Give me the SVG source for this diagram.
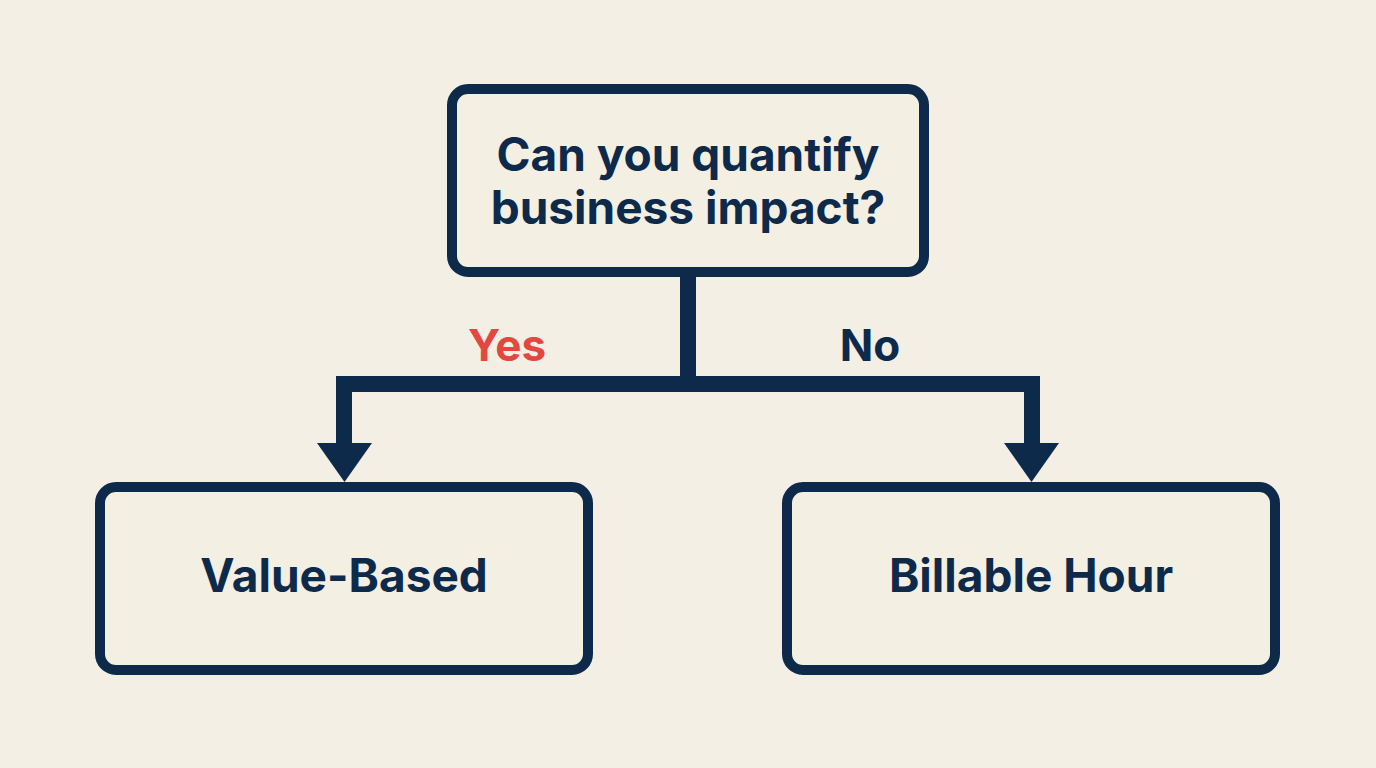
<svg xmlns="http://www.w3.org/2000/svg" width="1376" height="768" viewBox="0 0 1376 768">
  <style>
    .box { fill: #F3EFE3; stroke: #0E2A4B; stroke-width: 10; }
    .t { font-family: Inter, "Liberation Sans", sans-serif; font-weight: 700; fill: #0E2A4B; text-anchor: middle; }
    .wire { fill: none; stroke: #0E2A4B; stroke-width: 16; stroke-linejoin: miter; }
    .head { fill: #0E2A4B; }
  </style>
  <rect x="0" y="0" width="1376" height="768" fill="#F3EFE4"/>
  <g id="connectors">
    <path class="wire" d="M688,272 V384 M344,384 H1032 M344,376 V446 M1032,376 V446"/>
    <polygon class="head" points="317,443 372,443 344.5,482"/>
    <polygon class="head" points="1004,443 1059,443 1031.5,482"/>
    <text class="t" x="507" y="361" font-size="44" style="fill:#E2483F">Yes</text>
    <text class="t" x="870" y="361" font-size="44">No</text>
  </g>
  <g id="question">
    <rect class="box" x="452" y="89" width="472" height="183" rx="16"/>
    <text class="t" x="688" y="171" font-size="46">Can you quantify</text>
    <text class="t" x="688" y="224" font-size="46">business impact?</text>
  </g>
  <g id="value-based">
    <rect class="box" x="100" y="487" width="488" height="183" rx="16"/>
    <text class="t" x="344" y="592" font-size="46">Value-Based</text>
  </g>
  <g id="billable-hour">
    <rect class="box" x="787" y="487" width="488" height="183" rx="16"/>
    <text class="t" x="1031" y="592" font-size="46">Billable Hour</text>
  </g>
</svg>
